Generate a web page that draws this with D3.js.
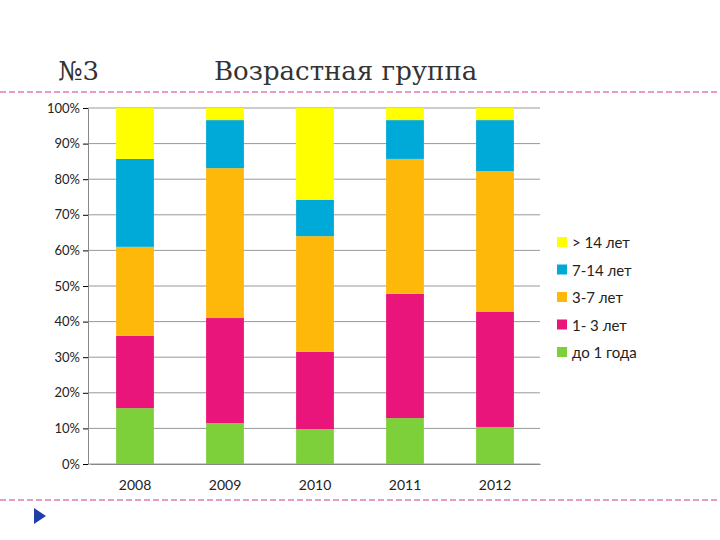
<!DOCTYPE html>
<html><head><meta charset="utf-8">
<script src="https://cdn.jsdelivr.net/npm/d3@7"></script>
<style>body{margin:0;background:#fff}</style>
</head><body>
<script>
const years = ["2008","2009","2010","2011","2012"];
const groups = ["до 1 года","1- 3 лет","3-7 лет","7-14 лет","> 14 лет"];
const colors = ["#7ed03b","#ea157a","#feb80a","#00aad8","#ffff00"];
// share of each group per year, %
const green  = [15.7, 11.5, 9.8, 12.9, 10.4];
const pink   = [20.3, 29.5, 21.7, 34.9, 32.3];
const orange = [25.0, 42.1, 32.5, 37.9, 39.6];
const blue   = [24.7, 13.5, 10.2, 10.9, 14.3];
const yellow = [14.3, 3.4, 25.8, 3.4, 3.4];
const ticks = [0,10,20,30,40,50,60,70,80,90,100];

const series = [green, pink, orange, blue, yellow];
const rows = years.map((y,i)=>{const r={year:y};groups.forEach((g,k)=>r[g]=series[k][i]);return r;});
const stacked = d3.stack().keys(groups)(rows);

const svg = d3.select("body").append("svg").attr("width",720).attr("height",540);

// decorative dashed lines
[92,500].forEach(yy=>svg.append("line").attr("x1",0).attr("x2",720).attr("y1",yy).attr("y2",yy)
  .attr("stroke","#d6338a").attr("stroke-dasharray","6,3").attr("stroke-width",1));
svg.append("path").attr("d","M34,508 L46,516 L34,524 Z").attr("fill","#1f3fa8");

svg.append("text").attr("x",58).attr("y",80).text("№3")
  .attr("font-family","DejaVu Serif").attr("font-size",26).attr("fill","#333");
svg.append("text").attr("x",214).attr("y",80).text("Возрастная группа")
  .attr("font-family","DejaVu Serif").attr("font-size",26).attr("fill","#333");

const x = d3.scaleBand().domain(years).range([90,540]).paddingInner(0.58).paddingOuter(0.29);
const y = d3.scaleLinear().domain([0,100]).range([464,108]);

svg.append("g").selectAll("line").data(ticks).join("line")
  .attr("x1",88).attr("x2",540).attr("y1",d=>y(d)).attr("y2",d=>y(d))
  .attr("stroke","#999").attr("stroke-width",1);

const yAxis = svg.append("g").attr("transform","translate(88,0)")
  .call(d3.axisLeft(y).tickValues(ticks).tickFormat(d=>d+"%").tickSize(5));
yAxis.select(".domain").attr("stroke","#888");
yAxis.selectAll("text").attr("font-family","Lato").attr("font-size",13).attr("fill","#222");

const xAxis = svg.append("g").attr("transform","translate(0,464)")
  .call(d3.axisBottom(x).tickSize(0).tickPadding(16));
xAxis.select(".domain").attr("stroke","#888");
xAxis.selectAll("text").attr("font-family","Lato").attr("font-size",14).attr("fill","#222");

svg.append("g").selectAll("g").data(stacked).join("g").attr("fill",(d,i)=>colors[i])
  .selectAll("rect").data(d=>d).join("rect")
  .attr("x",d=>x(d.data.year)).attr("width",x.bandwidth())
  .attr("y",d=>y(d[1])).attr("height",d=>y(d[0])-y(d[1]));

const leg = svg.append("g");
groups.slice().reverse().forEach((g,i)=>{
  const ci = groups.length-1-i;
  leg.append("rect").attr("x",557).attr("y",237+i*27.5).attr("width",10).attr("height",10).attr("fill",colors[ci]);
  leg.append("text").attr("x",572).attr("y",248+i*27.5).text(g)
    .attr("font-family","Lato").attr("font-size",15).attr("fill","#222");
});
</script>
</body></html>
